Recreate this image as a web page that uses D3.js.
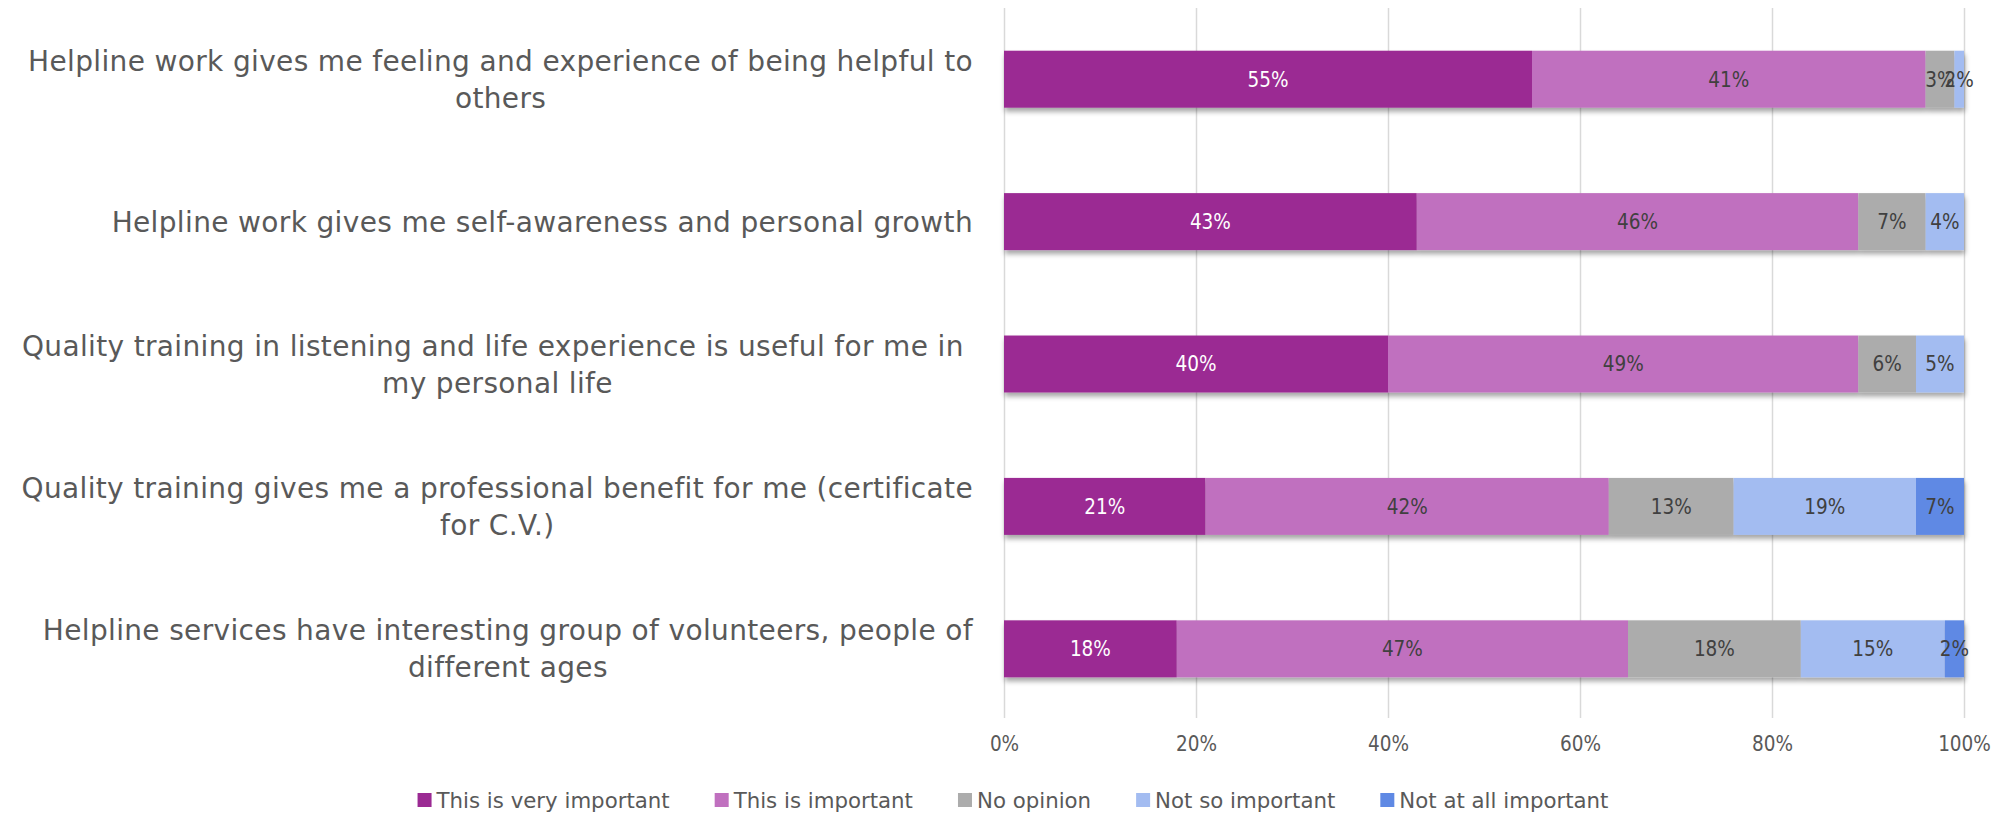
<!DOCTYPE html>
<html>
<head>
<meta charset="utf-8">
<script src="https://cdn.jsdelivr.net/npm/d3@7"></script>
<style>
  html, body { margin: 0; padding: 0; background: #ffffff; }
  svg { display: block; }
  text { font-family: "DejaVu Sans Condensed", "DejaVu Sans", sans-serif; }
</style>
</head>
<body>
<svg id="chart" width="2005" height="815"></svg>
<script>
// Survey statements (line breaks as shown on the axis)
const categories = [
  "Helpline work gives me feeling and experience of being helpful to\nothers",
  "Helpline work gives me self-awareness and personal growth",
  "Quality training in listening and life experience is useful for me in \nmy personal life",
  "Quality training gives me a professional benefit for me (certificate\nfor C.V.)",
  "Helpline services have interesting group of volunteers, people of\ndifferent ages"
];

const seriesNames = [
  "This is very important",
  "This is important",
  "No opinion",
  "Not so important",
  "Not at all important"
];

// Percentages per statement, one array per answer
const veryImportant  = [55, 43, 40, 21, 18];
const important      = [41, 46, 49, 42, 47];
const noOpinion      = [3, 7, 6, 13, 18];
const notSoImportant = [2, 4, 5, 19, 15];
const notAtAll       = [0, 0, 0, 7, 2];

const xTicks = [0, 20, 40, 60, 80, 100];

const colors = ["#9b2a93", "#c070bf", "#acacac", "#a3bcf1", "#5f89e4"];
const labelColors = ["#ffffff", "#404040", "#404040", "#404040", "#404040"];

const seriesValues = [veryImportant, important, noOpinion, notSoImportant, notAtAll];
const rows = categories.map((c, i) => {
  const r = { category: c };
  seriesNames.forEach((s, k) => { r[s] = seriesValues[k][i]; });
  return r;
});

const svg = d3.select("#chart");

const plotLeft = 1004, plotRight = 1964, plotTop = 8, plotBottom = 720;

const x = d3.scaleLinear().domain([0, 100]).range([plotLeft, plotRight]).clamp(true);
const y = d3.scaleBand().domain(categories).range([plotTop, plotBottom])
  .paddingInner(0.6).paddingOuter(0.3);
const color = d3.scaleOrdinal().domain(seriesNames).range(colors);
const labelColor = d3.scaleOrdinal().domain(seriesNames).range(labelColors);

// drop shadow under the bars
const defs = svg.append("defs");
const filt = defs.append("filter").attr("id", "barShadow")
  .attr("x", "-5%").attr("y", "-20%").attr("width", "110%").attr("height", "160%");
filt.append("feDropShadow").attr("dx", 1).attr("dy", 4).attr("stdDeviation", 2.5)
  .attr("flood-color", "#000").attr("flood-opacity", 0.35);

// vertical gridlines
const grid = svg.append("g")
  .attr("transform", `translate(0,${plotBottom - 2})`)
  .call(d3.axisBottom(x).tickValues(xTicks).tickSize(-(plotBottom - plotTop - 2)).tickFormat(""));
grid.select(".domain").remove();
grid.selectAll(".tick line").attr("stroke", "#d9d9d9").attr("stroke-width", 1.5);

// x axis labels
const xAxis = svg.append("g")
  .attr("transform", `translate(0,${plotBottom})`)
  .call(d3.axisBottom(x).tickValues(xTicks).tickSize(0).tickPadding(16).tickFormat(d => d + "%"));
xAxis.select(".domain").remove();
xAxis.selectAll("text")
  .attr("fill", "#595959")
  .style("font-size", "20.5px")
  .style("font-family", "'DejaVu Sans Condensed', 'DejaVu Sans', sans-serif");

// stacked bars
const stack = d3.stack().keys(seriesNames);
const stacked = stack(rows);

const barsG = svg.append("g").attr("filter", "url(#barShadow)");
const layers = barsG.selectAll("g.layer").data(stacked).join("g")
  .attr("class", "layer")
  .attr("fill", d => color(d.key));

layers.selectAll("rect").data(d => d.map(p => ({ p, key: d.key }))).join("rect")
  .attr("x", d => x(d.p[0]))
  .attr("y", d => y(d.p.data.category))
  .attr("width", d => Math.max(0, x(d.p[1]) - x(d.p[0])))
  .attr("height", y.bandwidth());

// value labels
const labelsG = svg.append("g");
stacked.forEach(layer => {
  layer.forEach(p => {
    const v = p.data[layer.key];
    if (!v) return;
    labelsG.append("text")
      .attr("x", (x(p[0]) + x(p[1])) / 2)
      .attr("y", y(p.data.category) + y.bandwidth() / 2)
      .attr("dy", "0.36em")
      .attr("text-anchor", "middle")
      .attr("fill", labelColor(layer.key))
      .style("font-size", "20.5px")
      .text(v + "%");
  });
});

// category labels: wrapped block, lines centred, block right-aligned to the axis
const catRight = 973;
const catG = svg.append("g");
categories.forEach(c => {
  const lines = c.split("\n");
  const cy = y(c) + y.bandwidth() / 2;
  const lineH = 37;
  const g = catG.append("g");
  const texts = lines.map((ln, i) => g.append("text")
    .attr("y", cy + (i - (lines.length - 1) / 2) * lineH)
    .attr("dy", "0.36em")
    .attr("text-anchor", "middle")
    .attr("fill", "#595959")
    .style("font-family", "'DejaVu Sans', sans-serif")
    .style("font-size", "28px")
    .style("letter-spacing", "0.35px")
    .attr("xml:space", "preserve")
    .style("white-space", "pre")
    .text(ln));
  const w = d3.max(texts, t => t.node().getComputedTextLength());
  texts.forEach(t => t.attr("x", catRight - w / 2));
});

// legend
const legendG = svg.append("g");
const sq = 14, sqGap = 5, itemGap = 45, legendY = 800;
let lx = 0;
seriesNames.forEach(s => {
  const item = legendG.append("g").attr("transform", `translate(${lx},0)`);
  item.append("rect").attr("x", 0).attr("y", legendY - sq / 2)
    .attr("width", sq).attr("height", sq).attr("fill", color(s));
  const t = item.append("text").attr("x", sq + sqGap).attr("y", legendY)
    .attr("dy", "0.36em").attr("fill", "#595959")
    .style("font-family", "'DejaVu Sans', sans-serif")
    .style("font-size", "21.3px").text(s);
  lx += sq + sqGap + t.node().getComputedTextLength() + itemGap;
});
const legendW = lx - itemGap;
legendG.attr("transform", `translate(${1013 - legendW / 2},0)`);
</script>
</body>
</html>
